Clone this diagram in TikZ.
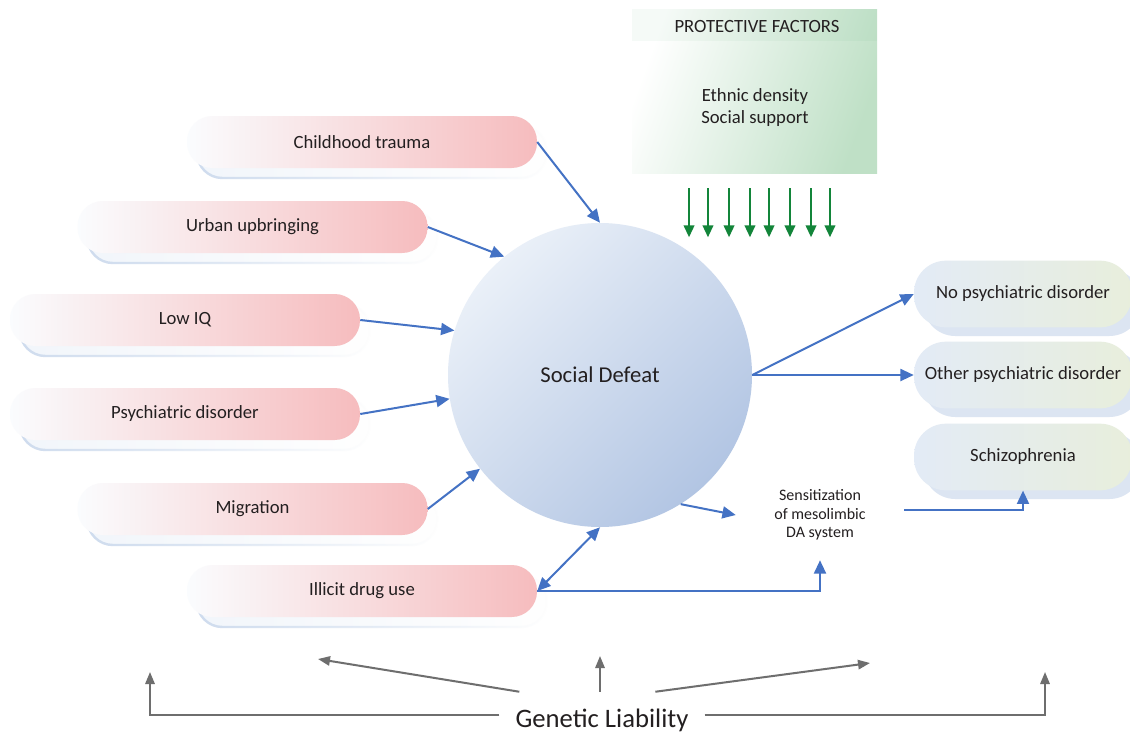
\documentclass[tikz,border=0pt]{standalone}
\usepackage{fontspec}
\setmainfont{Carlito}
\usetikzlibrary{arrows.meta,shadows,calc,fadings}
\definecolor{txt}{HTML}{231F20}
\definecolor{blu}{HTML}{4472C4}
\definecolor{gry}{HTML}{6E6E6E}
\definecolor{grn}{HTML}{13853A}
\definecolor{pinkR}{HTML}{F6BCBE}
\definecolor{pinkL}{HTML}{FAFCFE}
\definecolor{shedge}{HTML}{CFDCEE}
\definecolor{shfill}{HTML}{F2F6FB}
\definecolor{outL}{HTML}{E3EBF6}
\definecolor{outR}{HTML}{E8EEDC}
\definecolor{outsh}{HTML}{DCE5F2}
\definecolor{cirL}{HTML}{EAF0F8}
\definecolor{cirD}{HTML}{B2C5E3}
\definecolor{pfG}{HTML}{BFE0C6}
\begin{document}
\begin{tikzpicture}[x=0.75pt,y=-0.75pt,
  font=\fontsize{14}{16.5}\selectfont, text=txt,
  riskpill/.style={rectangle, rounded corners=19pt, minimum width=262.5pt, minimum height=39pt,
    left color=pinkL, right color=pinkR,
    general shadow={shadow xshift=7.5pt, shadow yshift=-7.5pt, fill=shfill, draw=shedge, line width=1.8pt, path fading=east}},
  outpill/.style={rectangle, rounded corners=24pt, minimum width=163.5pt, minimum height=50pt,
    left color=outL, right color=outR,
    general shadow={shadow xshift=7pt, shadow yshift=-6.5pt, fill=outsh}},
  barrow/.style={draw=blu, line width=1.5pt, -{Triangle[length=10pt,width=9pt]}},
  garrow/.style={draw=gry, line width=1.5pt, -{Triangle[length=9pt,width=7pt]}},
  grarrow/.style={draw=grn, line width=1.5pt, -{Triangle[length=9pt,width=8pt]}},
]
\useasboundingbox (0,0) rectangle (1130,732);
\fill[white] (0,0) rectangle (1130,732);

% protective factors
\node[rectangle, minimum width=183.75pt, minimum height=123pt, inner sep=0,
      left color=white, right color=pfG, shading angle=70] (pf) at (754.5,91) {};
\fill[grn, opacity=0.04] (pf.north west) rectangle ([yshift=-24pt]pf.north east);
\node (pfh) at (757,27) {PROTECTIVE FACTORS};
\node[align=center] (pft) at (755,108) {Ethnic density\\Social support};
\foreach \dx in {-49.1,-34.9,-19.1,-3.4,10.9,26.6,42.4,56.6}
  \draw[grarrow] ([xshift=\dx pt, yshift=-11.25pt]pf.south) -- ++(0,49);

% central circle
\node[circle, minimum size=228pt, inner sep=0, top color=cirL, bottom color=cirD, shading angle=45,
      font=\fontsize{17}{20}\selectfont] (sd) at (600,375) {Social Defeat};

% risk factors
\node[riskpill] (ct)  at (362,142)   {Childhood trauma};
\node[riskpill] (uu)  at (252.5,227) {Urban upbringing};
\node[riskpill] (liq) at (185,320)   {Low IQ};
\node[riskpill] (pd)  at (185,414)   {Psychiatric disorder};
\node[riskpill] (mig) at (252.5,509) {Migration};
\node[riskpill] (idu) at (362,591)   {Illicit drug use};

% outcomes
\node[outpill] (np) at (1023,294) {No psychiatric disorder};
\node[outpill] (op) at (1023,375) {Other psychiatric disorder};
\node[outpill] (sz) at (1023,457) {Schizophrenia};

% sensitization
\node[align=center, minimum width=126pt, minimum height=67.5pt, inner sep=0,
      font=\fontsize{12}{13.9}\selectfont] (sens) at (820,515) {Sensitization\\of mesolimbic\\DA system};

% genetic liability
\node[font=\fontsize{20}{22}\selectfont, inner xsep=12pt, minimum height=39pt] (gl) at (602,720) {Genetic Liability};
\coordinate (gL) at (150,672);
\coordinate (gR) at (1045,672);
\coordinate (g1) at (318,659);
\coordinate (g2) at (600,656);
\coordinate (g3) at (870,663);

% blue connectors
\draw[barrow] (ct.east) -- (sd.90);
\draw[barrow] (uu.east) -- (sd.129);
\draw[barrow] (liq.east) -- (sd.163);
\draw[barrow] (pd.east) -- (sd.189);
\draw[barrow] (mig.east) -- (sd.218);
\draw[barrow, {Triangle[length=10pt,width=9pt]}-{Triangle[length=10pt,width=9pt]}] (idu.east) -- (sd.270);
\draw[barrow] (idu.east) -| (sens.south);
\draw[barrow] (sd.302) -- (sens.west);
\draw[barrow] ([yshift=4pt]sens.east) -| (sz.south);
\draw[barrow] (sd.east) -- (np.west);
\draw[barrow] (sd.east) -- (op.west);

% gray connectors
\draw[garrow] ([yshift=3.75pt]gl.west) -| (gL);
\draw[garrow] ([yshift=3.75pt]gl.east) -| (gR);
\draw[garrow] ([xshift=-62pt,yshift=1.5pt]gl.north) -- (g1);
\draw[garrow] ([xshift=-1.5pt,yshift=1.5pt]gl.north) -- (g2);
\draw[garrow] ([xshift=40pt,yshift=1.5pt]gl.north) -- (g3);
\end{tikzpicture}
\end{document}
